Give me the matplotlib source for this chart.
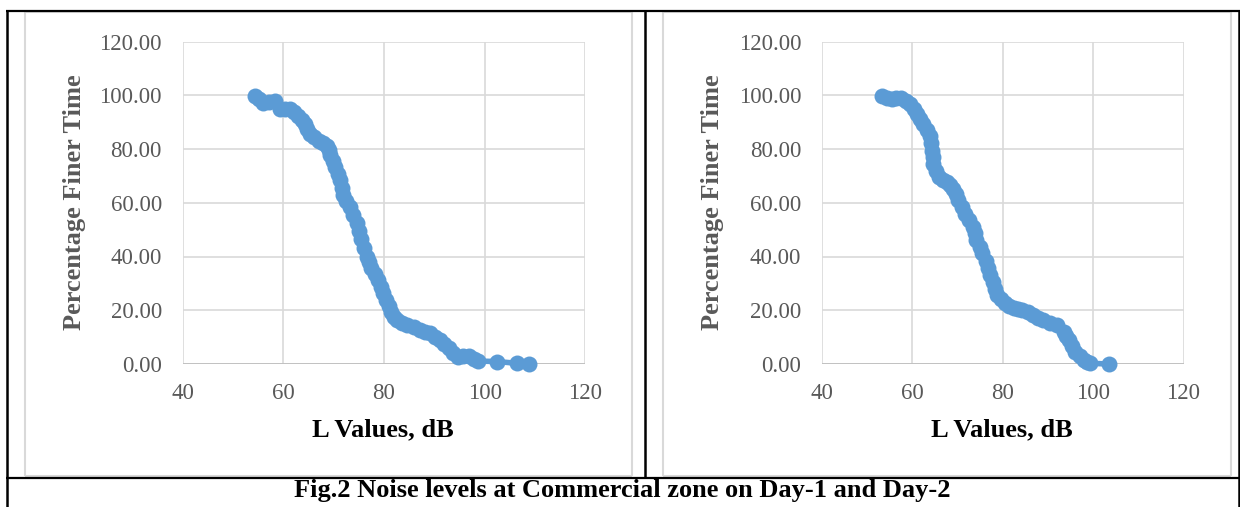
import numpy as np
import matplotlib
matplotlib.use("Agg")
import matplotlib.pyplot as plt
from matplotlib.lines import Line2D

# Day-1 readings (L value dB, percentage finer time)
day1_L = [54.4, 55.2, 56.0, 57.2, 58.3, 59.3, 60.3, 61.3, 62.2, 63.0, 63.7, 64.3,
          64.8, 65.3, 66.1, 67.0, 67.8, 68.6, 69.0, 69.3, 69.8, 70.3, 70.8, 71.3,
          71.6, 71.9, 72.5, 73.2, 73.9, 74.6, 75.0, 75.5, 76.0, 76.6, 77.0, 77.5,
          78.2, 78.9, 79.4, 79.9, 80.4, 80.9, 81.4, 81.9, 82.6, 83.6, 84.6, 85.9,
          87.2, 88.2, 89.2, 90.2, 91.2, 92.0, 92.9, 93.7, 94.6, 95.7, 96.9, 97.8,
          98.7, 102.5, 106.5, 108.8]
day1_P = [99.8, 98.5, 97.3, 97.6, 97.9, 94.8, 94.8, 94.8, 93.6, 92.4, 90.8, 89.3,
          87.5, 85.6, 84.3, 83.1, 82.2, 81.3, 79.5, 77.6, 75.5, 73.3, 70.8, 68.3,
          65.5, 62.8, 60.6, 58.5, 55.4, 52.3, 49.4, 46.5, 43.2, 40.0, 38.0, 35.9,
          33.6, 31.3, 28.8, 26.3, 23.9, 21.4, 19.5, 17.6, 16.4, 15.4, 14.5, 13.6,
          12.7, 12.0, 11.4, 10.2, 8.9, 7.4, 5.8, 4.2, 2.7, 2.8, 3.0, 2.0,
          1.1, 0.9, 0.25, 0.0]

# Day-2 readings
day2_L = [53.2, 54.3, 55.4, 56.5, 57.6, 58.6, 59.5, 60.3, 61.0, 61.7, 62.4, 63.2,
          63.9, 64.1, 64.3, 64.5, 64.6, 65.2, 65.8, 66.7, 67.6, 68.4, 69.1, 69.7,
          70.2, 71.0, 71.7, 72.6, 73.5, 73.9, 74.2, 74.9, 75.5, 76.2, 76.8, 77.3,
          77.8, 78.3, 78.7, 79.6, 80.5, 81.4, 82.4, 83.3, 84.2, 85.5, 86.8, 87.9,
          89.0, 90.5, 92.0, 93.5, 94.0, 94.6, 95.3, 96.1, 97.0, 97.9, 98.6, 99.4,
          103.5]
day2_P = [99.8, 99.1, 98.5, 98.8, 99.1, 97.9, 96.7, 94.9, 93.0, 91.2, 89.3, 87.2,
          85.0, 82.2, 79.4, 77.0, 74.5, 72.0, 69.6, 68.6, 67.7, 66.5, 65.3, 63.1,
          60.9, 58.4, 56.0, 53.5, 51.1, 48.6, 46.1, 43.6, 41.2, 38.4, 35.8, 33.0,
          30.5, 28.0, 25.7, 24.1, 22.6, 21.6, 20.7, 20.4, 20.1, 19.2, 18.3, 17.3,
          16.4, 15.4, 14.5, 12.0, 10.4, 8.9, 6.8, 4.6, 3.0, 1.5, 0.9, 0.25,
          0.0]

xticks = [40, 60, 80, 100, 120]
yticks = [0, 20, 40, 60, 80, 100, 120]
caption = "Fig.2 Noise levels at Commercial zone on Day-1 and Day-2"

W, H = 1240, 507
plt.rcParams['font.family'] = ['Liberation Serif', 'DejaVu Serif']
fig = plt.figure(figsize=(W / 100, H / 100), dpi=100)
fig.patch.set_facecolor('white')

def fx(px):
    return px / W

def fy(py):
    return (H - py) / H

def hline(x0, x1, y, color, lw):
    fig.add_artist(Line2D([fx(x0), fx(x1)], [fy(y), fy(y)], color=color, lw=lw,
                          transform=fig.transFigure, solid_capstyle='butt'))

def vline(x, y0, y1, color, lw):
    fig.add_artist(Line2D([fx(x), fx(x)], [fy(y0), fy(y1)], color=color, lw=lw,
                          transform=fig.transFigure, solid_capstyle='butt'))

grey = '#d9d9d9'
# chart area frames
for (a, b) in [(25, 631.5), (662.5, 1230.5)]:
    hline(a, b, 12, grey, 1.5)
    hline(a, b, 476, grey, 1.5)
    vline(a, 12, 476, grey, 1.5)
    vline(b, 12, 476, grey, 1.5)

# table borders
hline(6, 1240, 11, 'black', 1.6)
hline(6, 1240, 477.5, 'black', 1.6)
vline(7, 11, 507, 'black', 1.8)
vline(645, 11, 477.5, 'black', 1.8)
vline(1238.5, 11, 507, 'black', 1.8)

panels = [
    (182.6, 585.4, day1_L, day1_P, 75, 383),
    (821.9, 1183.5, day2_L, day2_P, 713, 1002),
]
top, bottom = 41.5, 364
for x0, x1, xs, ys, ylab_x, xlab_x in panels:
    ax = fig.add_axes([fx(x0), fy(bottom), (x1 - x0) / W, (bottom - top) / H])
    ax.set_xlim(40, 120)
    ax.set_ylim(0, 120)
    ax.set_xticks(xticks)
    ax.set_yticks(yticks)
    ax.set_yticklabels(['%.2f' % v for v in yticks])
    ax.grid(True, color=grey, lw=1.2)
    ax.set_axisbelow(True)
    for s in ax.spines.values():
        s.set_visible(False)
    ax.tick_params(length=0, labelsize=16.5, labelcolor='#595959')
    ax.tick_params(axis='y', pad=15)
    ax.tick_params(axis='x', pad=14)
    ax.axhline(0, color='#bfbfbf', lw=1.3, zorder=1)
    ax.plot(xs, ys, color='#5b9bd5', lw=4, marker='o', markersize=11.5,
            markeredgewidth=0, clip_on=False, zorder=3)
    fig.text(fx(ylab_x), fy(202), 'Percentage Finer Time', rotation=90,
             ha='center', va='center', fontsize=19, fontweight='bold',
             color='#595959')
    fig.text(fx(xlab_x), fy(430), 'L Values, dB', ha='center', va='center',
             fontsize=19, fontweight='bold', color='black')

fig.text(fx(622), fy(490), caption, ha='center', va='center', fontsize=19,
         fontweight='bold', color='black')

plt.savefig('out.png', dpi=100)
